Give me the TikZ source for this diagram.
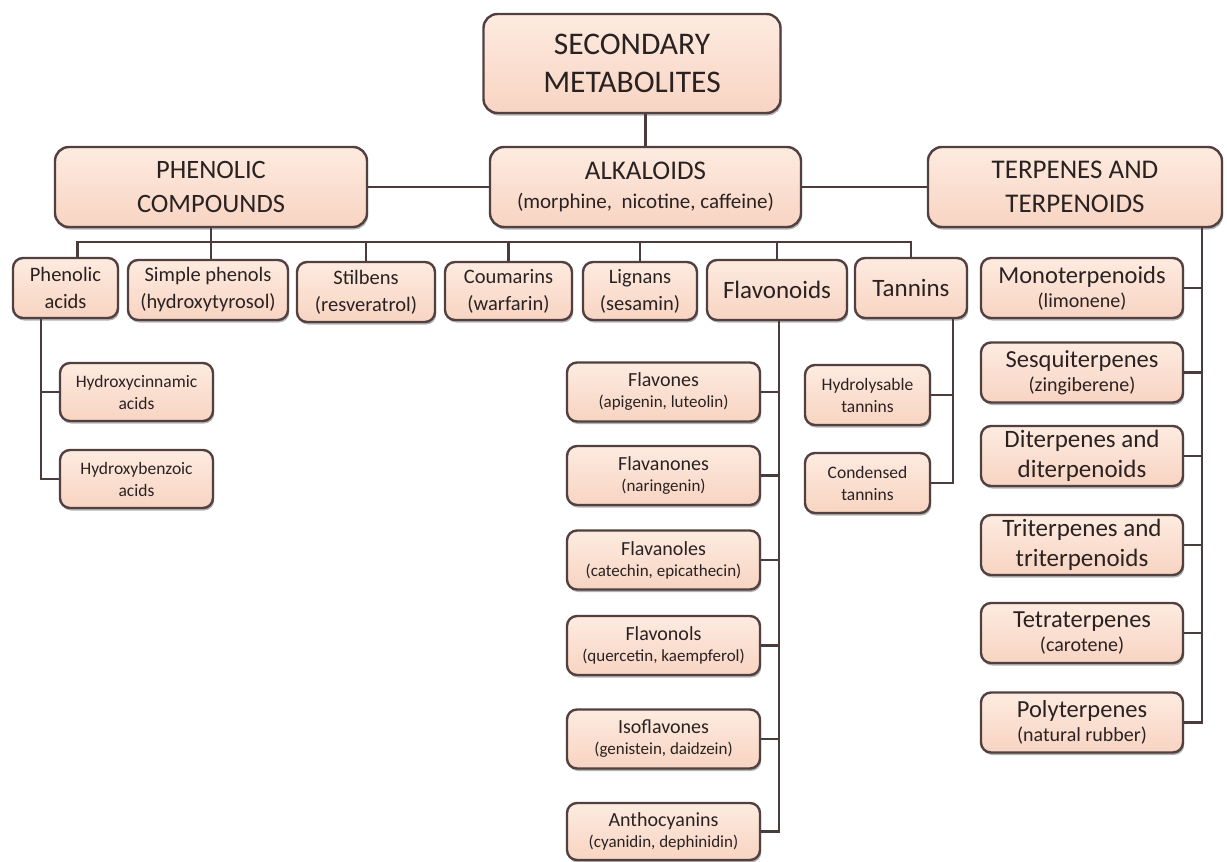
\documentclass[tikz,border=0pt]{standalone}
\usepackage{fontspec}
\setmainfont{Carlito}
\usetikzlibrary{shadows,calc}
\definecolor{boxtop}{HTML}{FDEBE0}
\definecolor{boxbot}{HTML}{F8D4C2}
\definecolor{edgec}{HTML}{524040}
\definecolor{inkc}{HTML}{2A2222}
\definecolor{wirec}{HTML}{4A3C3C}
\newcommand\setfs[2]{\fontsize{#1}{#2}\selectfont}

\begin{document}
\begin{tikzpicture}[x=1pt,y=-1pt,
  box/.style={draw=edgec, line width=2.4pt, rounded corners=10pt,
    top color=boxtop, bottom color=boxbot, text=inkc, align=center,
    inner sep=0pt,
    drop shadow={shadow xshift=1.2pt, shadow yshift=-2.5pt, opacity=0.3, fill=black}},
  bigbox/.style={box, rounded corners=14pt},
  rowbox/.style={box, minimum height=60pt, font=\setfs{20.5}{27}},
  subbox/.style={box, minimum height=59pt, font=\setfs{17.5}{22}},
  flbox/.style={box, minimum width=193pt, minimum height=59pt, font=\setfs{17}{21}},
  tpbox/.style={box, minimum width=202pt, minimum height=60pt, font=\setfs{20}{24}},
  wire/.style={draw=wirec, line width=2.4pt}]

\fill[white] (0,0) rectangle (1227,862);
\useasboundingbox (0,0) rectangle (1227,862);

% top level
\node[bigbox, minimum width=297pt, minimum height=99pt, font=\setfs{31.5}{38}] (sec) at (632,63.5) {SECONDARY\\METABOLITES};
\node[bigbox, minimum width=312pt, minimum height=80pt, font=\setfs{26.5}{34}] (phen) at (211,187) {PHENOLIC\\COMPOUNDS};
\node[bigbox, minimum width=311pt, minimum height=80pt, font=\setfs{21}{29}] (alk) at (645.5,187)
  {{\setfs{27}{29}ALKALOIDS}\\(morphine,~ nicotine, caffeine)};
\node[bigbox, minimum width=294pt, minimum height=80pt, font=\setfs{27}{34}] (terp) at (1075,187) {TERPENES AND\\TERPENOIDS};

% phenolic compound classes
\node[rowbox, minimum width=105pt] (pa) at (65.5,288) {Phenolic\\acids};
\node[rowbox, minimum width=160pt] (sp) at (208,290) {Simple phenols\\(hydroxytyrosol)};
\node[rowbox, minimum width=138pt] (st) at (366,292) {Stilbens\\(resveratrol)};
\node[rowbox, minimum width=127pt, minimum height=58pt] (co) at (508.5,291) {Coumarins\\(warfarin)};
\node[rowbox, minimum width=114pt, minimum height=58pt] (li) at (640,291) {Lignans\\(sesamin)};
\node[rowbox, minimum width=140pt, font=\setfs{25}{28}] (fl) at (777,290) {Flavonoids};
\node[rowbox, minimum width=112pt, font=\setfs{25}{28}] (ta) at (911,288) {Tannins};

% phenolic acids
\node[subbox, minimum width=153pt, minimum height=58pt] (hc) at (136.5,392) {Hydroxycinnamic\\acids};
\node[subbox, minimum width=153pt, minimum height=58pt] (hb) at (136.5,479) {Hydroxybenzoic\\acids};

% tannins
\node[subbox, minimum width=125pt, minimum height=60pt] (hy) at (867.5,395) {Hydrolysable\\tannins};
\node[subbox, minimum width=125pt, minimum height=60pt] (cd) at (867.5,483) {Condensed\\tannins};

% flavonoids
\node[flbox] (f1) at (663.5,392) {{\setfs{20}{21}Flavones}\\(apigenin, luteolin)};
\node[flbox] (f2) at (663.5,475.5) {{\setfs{20}{21}Flavanones}\\(naringenin)};
\node[flbox] (f3) at (663.5,560) {{\setfs{20}{21}Flavanoles}\\(catechin, epicathecin)};
\node[flbox] (f4) at (663.5,645.5) {{\setfs{20}{21}Flavonols}\\(quercetin, kaempferol)};
\node[flbox] (f5) at (663.5,739) {{\setfs{20}{21}Isoflavones}\\(genistein, daidzein)};
\node[flbox, minimum height=57pt] (f6) at (663.5,831.5) {{\setfs{20}{21}Anthocyanins}\\(cyanidin, dephinidin)};

% terpenes
\node[tpbox] (t1) at (1082,288) {{\setfs{24.5}{24}Monoterpenoids}\\(limonene)};
\node[tpbox] (t2) at (1082,372.5) {{\setfs{24.5}{24}Sesquiterpenes}\\(zingiberene)};
\node[tpbox, font=\setfs{25}{30}] (t3) at (1082,456) {Diterpenes and\\diterpenoids};
\node[tpbox, font=\setfs{25}{30}] (t4) at (1082,545) {Triterpenes and\\triterpenoids};
\node[tpbox] (t5) at (1082,633) {{\setfs{24.5}{24}Tetraterpenes}\\(carotene)};
\node[tpbox] (t6) at (1082,722.5) {{\setfs{24.5}{24}Polyterpenes}\\(natural rubber)};

% connectors of the top level
\draw[wire] (alk.north) -- (alk.north |- sec.south);
\draw[wire] (phen.east) -- (alk.west);
\draw[wire] (alk.east) -- (terp.west);

% bus to the phenolic classes
\draw[wire] (phen.south) -- (phen.south |- sp.north);
\draw[wire] ($(pa.north)+(12,0)$) -- ++(0,-15) coordinate (busL) -| (ta.north);
\foreach \n in {st,co,li,fl}
  \draw[wire] (\n.north) -- (\n.north |- busL);

% phenolic acids branch
\draw[wire] ($(pa.south)+(-24.5,0)$) coordinate (paB) |- (hb.west);
\draw[wire] (paB |- hc.west) -- (hc.west);

% tannins branch
\draw[wire] ($(ta.south)+(42,0)$) coordinate (taB) |- (cd.east);
\draw[wire] (taB |- hy.east) -- (hy.east);

% flavonoids branch
\draw[wire] ($(fl.south)+(2,0)$) coordinate (flB) |- (f6.east);
\foreach \n in {f1,f2,f3,f4,f5}
  \draw[wire] (flB |- \n.east) -- (\n.east);

% terpenes branch
\draw[wire] ($(terp.south)+(127,0)$) coordinate (tpB) |- (t6.east);
\foreach \n in {t1,t2,t3,t4,t5}
  \draw[wire] (tpB |- \n.east) -- (\n.east);
\end{tikzpicture}
\end{document}
